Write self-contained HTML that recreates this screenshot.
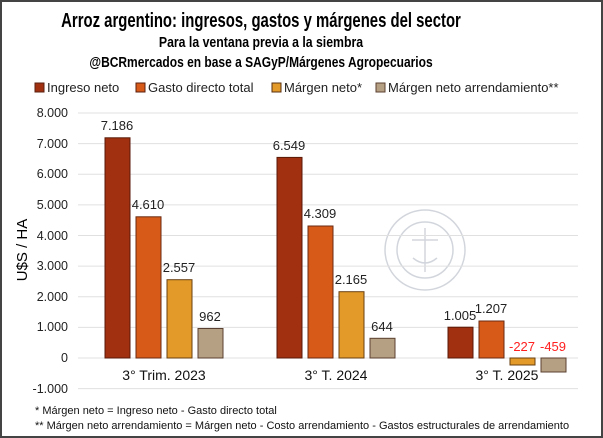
<!DOCTYPE html>
<html><head><meta charset="utf-8"><style>
html,body{margin:0;padding:0;background:#fff}
svg{display:block}
text{font-family:"Liberation Sans",sans-serif}
</style></head><body>
<svg width="603" height="438" viewBox="0 0 603 438" xmlns="http://www.w3.org/2000/svg">
<rect x="1" y="1" width="601" height="436" fill="#fff" stroke="#444" stroke-width="2"/>
<g font-weight="bold" fill="#000" text-anchor="middle">
<text x="261" y="27" font-size="20" transform="translate(261 0) scale(0.745 1) translate(-261 0)">Arroz argentino: ingresos, gastos y márgenes del sector</text>
<text x="261" y="47" font-size="15" transform="translate(261 0) scale(0.82 1) translate(-261 0)">Para la ventana previa a la siembra</text>
<text x="261" y="67" font-size="15" transform="translate(261 0) scale(0.8 1) translate(-261 0)">@BCRmercados en base a SAGyP/Márgenes Agropecuarios</text>
</g>
<g fill="none" stroke="#c8ccd4" stroke-width="1.5" opacity="0.8">
<circle cx="425" cy="250" r="40"/><circle cx="425" cy="250" r="28"/>
<path d="M425 228 v44 M412 240 h26 M413 258 q12 10 24 0"/>
</g>
<g font-size="13" fill="#222">
<rect x="35" y="83" width="9" height="9" fill="#a0300f" stroke="#5a2010"/><text x="47" y="92">Ingreso neto</text>
<rect x="136" y="83" width="9" height="9" fill="#d75a18" stroke="#5a2010"/><text x="148" y="92">Gasto directo total</text>
<rect x="272" y="83" width="9" height="9" fill="#e39a28" stroke="#5a3010"/><text x="284" y="92">Márgen neto*</text>
<rect x="376" y="83" width="9" height="9" fill="#b5a084" stroke="#5a4030"/><text x="388" y="92">Márgen neto arrendamiento**</text>
</g>
<g stroke="#e0e0e0" stroke-width="1">
<line x1="78" x2="578" y1="113" y2="113"/><line x1="78" x2="578" y1="143.6" y2="143.6"/>
<line x1="78" x2="578" y1="174.3" y2="174.3"/><line x1="78" x2="578" y1="204.9" y2="204.9"/>
<line x1="78" x2="578" y1="235.5" y2="235.5"/><line x1="78" x2="578" y1="266.1" y2="266.1"/>
<line x1="78" x2="578" y1="296.8" y2="296.8"/><line x1="78" x2="578" y1="327.4" y2="327.4"/>
<line x1="78" x2="578" y1="358" y2="358"/><line x1="78" x2="578" y1="388.6" y2="388.6"/>
</g>
<g font-size="12.5" fill="#222" text-anchor="end">
<text x="68" y="117">8.000</text><text x="68" y="148">7.000</text><text x="68" y="178">6.000</text>
<text x="68" y="209">5.000</text><text x="68" y="240">4.000</text><text x="68" y="270">3.000</text>
<text x="68" y="301">2.000</text><text x="68" y="331">1.000</text><text x="68" y="362">0</text>
<text x="68" y="393">-1.000</text>
</g>
<text x="0" y="0" font-size="15" fill="#000" text-anchor="middle" transform="translate(27 250) rotate(-90)">U$S / HA</text>
<g stroke-width="1">
<rect x="105" y="137.8" width="25" height="220.2" fill="#a0300f" stroke="#5a1a08"/>
<rect x="136" y="216.8" width="25" height="141.2" fill="#d75a18" stroke="#6a2a10"/>
<rect x="167" y="279.7" width="25" height="78.3" fill="#e39a28" stroke="#6a4010"/>
<rect x="198" y="328.5" width="25" height="29.5" fill="#b5a084" stroke="#5a4030"/>
<rect x="277" y="157.4" width="25" height="200.6" fill="#a0300f" stroke="#5a1a08"/>
<rect x="308" y="226" width="25" height="132" fill="#d75a18" stroke="#6a2a10"/>
<rect x="339" y="291.7" width="25" height="66.3" fill="#e39a28" stroke="#6a4010"/>
<rect x="370" y="338.3" width="25" height="19.7" fill="#b5a084" stroke="#5a4030"/>
<rect x="448" y="327.2" width="25" height="30.8" fill="#a0300f" stroke="#5a1a08"/>
<rect x="479" y="321" width="25" height="37" fill="#d75a18" stroke="#6a2a10"/>
<rect x="510" y="358" width="25" height="7" fill="#e39a28" stroke="#6a4010"/>
<rect x="541" y="358" width="25" height="14" fill="#b5a084" stroke="#5a4030"/>
</g>
<g font-size="13" fill="#222" text-anchor="middle">
<text x="117" y="130">7.186</text><text x="148" y="209">4.610</text><text x="179" y="272">2.557</text><text x="210" y="321">962</text>
<text x="289" y="150">6.549</text><text x="320" y="218">4.309</text><text x="351" y="284">2.165</text><text x="382" y="331">644</text>
<text x="460" y="320">1.005</text><text x="491" y="313">1.207</text>
<text x="522" y="351" fill="#ff2020">-227</text><text x="553" y="351" fill="#ff2020">-459</text>
</g>
<g font-size="14" fill="#111" text-anchor="middle">
<text x="164" y="380">3° Trim. 2023</text><text x="336" y="380">3° T. 2024</text><text x="507" y="380">3° T. 2025</text>
</g>
<g font-size="11" fill="#111">
<text x="35" y="414">* Márgen neto = Ingreso neto - Gasto directo total</text>
<text x="35" y="429">** Márgen neto arrendamiento = Márgen neto - Costo arrendamiento - Gastos estructurales  de arrendamiento</text>
</g>
</svg>
</body></html>
